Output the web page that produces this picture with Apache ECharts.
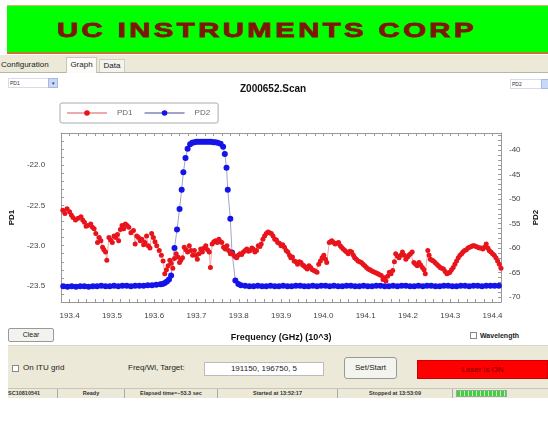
<!DOCTYPE html>
<html>
<head>
<meta charset="utf-8">
<script src="https://cdn.jsdelivr.net/npm/echarts@6/dist/echarts.min.js"></script>
<style>
html,body{margin:0;padding:0;background:#fff;}
body{width:548px;height:428px;position:relative;overflow:hidden;font-family:"Liberation Sans",Arial,sans-serif;}
.abs{position:absolute;box-sizing:border-box;}
#chart{position:absolute;left:0;top:0;width:548px;height:428px;z-index:5;}
</style>
</head>
<body>
<!-- banner -->
<div class="abs" style="left:7px;top:5px;width:541px;height:49px;background:#00ff00;border-top:1px solid #e0b070;border-bottom:2px solid #c8762a;"></div>
<div class="abs" style="left:0;top:6px;width:534px;height:47px;display:flex;align-items:center;justify-content:center;transform:scaleX(1.4);font-size:21px;font-weight:bold;color:#7e1606;letter-spacing:2.4px;white-space:nowrap;-webkit-text-stroke:0.8px #7e1606;">UC INSTRUMENTS CORP</div>
<!-- tab bar -->
<div class="abs" style="left:0;top:55px;width:548px;height:18px;background:#ece9d8;border-bottom:1px solid #b8b6a8;"></div>
<div class="abs" style="left:0;top:58px;width:64px;height:14px;font-size:8px;color:#222;line-height:14px;padding-left:1px;">Configuration</div>
<div class="abs" style="left:66px;top:57px;width:31px;height:16px;background:#fbfbf8;border:1px solid #c8c6b8;border-bottom:none;font-size:8px;color:#222;line-height:14px;text-align:center;">Graph</div>
<div class="abs" style="left:99px;top:59px;width:26px;height:13px;background:#f4f3ec;border:1px solid #d0cec0;border-bottom:none;font-size:8px;color:#222;line-height:12px;text-align:center;">Data</div>
<!-- dropdowns -->
<div class="abs" style="left:8px;top:78px;width:50px;height:10px;background:#fff;border:1px solid #d8dce8;font-size:5px;line-height:8px;padding-left:1px;color:#333;">PD1</div>
<div class="abs" style="left:48px;top:78px;width:10px;height:10px;background:#c8d8f8;border:1px solid #a8b8e0;font-size:5px;line-height:8px;text-align:center;color:#335;">&#9662;</div>
<div class="abs" style="left:510px;top:79px;width:40px;height:10px;background:#fff;border:1px solid #d8dce8;font-size:5px;line-height:8px;padding-left:1px;color:#333;">PD2</div>
<div class="abs" style="left:541px;top:79px;width:10px;height:10px;background:#c8d8f8;border:1px solid #a8b8e0;"></div>
<!-- under chart -->
<div class="abs" style="left:8px;top:328px;width:46px;height:14px;background:#f2f2ee;border:1px solid #999;border-radius:2px;font-size:7px;line-height:12px;text-align:center;color:#222;">Clear</div>
<div class="abs" style="left:470px;top:332px;width:7px;height:7px;background:#fff;border:1px solid #888;"></div>
<div class="abs" style="left:480px;top:331px;width:80px;height:9px;font-size:7px;font-weight:bold;line-height:9px;color:#222;white-space:nowrap;">Wavelength</div>
<!-- bottom panel -->
<div class="abs" style="left:8px;top:345px;width:540px;height:44px;background:#ece9d8;border-top:1px solid #d8d6c8;"></div>
<div class="abs" style="left:12px;top:365px;width:7px;height:7px;background:#fff;border:1px solid #888;"></div>
<div class="abs" style="left:23px;top:363px;width:60px;height:10px;font-size:8px;line-height:10px;color:#222;white-space:nowrap;">On ITU grid</div>
<div class="abs" style="left:128px;top:363px;width:75px;height:10px;font-size:8px;line-height:10px;color:#222;white-space:nowrap;">Freq/Wl, Target:</div>
<div class="abs" style="left:204px;top:362px;width:120px;height:14px;background:#fff;border:1px solid #bbb;font-size:8px;line-height:12px;text-align:center;color:#222;">191150, 196750, 5</div>
<div class="abs" style="left:344px;top:357px;width:53px;height:22px;background:#f4f4ee;border:1px solid #999;border-radius:3px;font-size:8px;line-height:20px;text-align:center;color:#222;">Set/Start</div>
<div class="abs" style="left:417px;top:360px;width:131px;height:19px;background:#ff0000;border:1px solid #c00;font-size:8px;line-height:17px;text-align:center;color:#7a0000;">Laser is ON</div>
<!-- status bar -->
<div class="abs" style="left:8px;top:388px;width:540px;height:10px;background:#ece9d8;border-top:1px solid #c8c6b8;"></div>
<div class="abs" style="left:8px;top:389px;width:50px;height:9px;font-size:5.5px;font-weight:bold;line-height:9px;color:#333;border-right:1px solid #aaa;">SC10810541</div>
<div class="abs" style="left:58px;top:389px;width:67px;height:9px;font-size:5.5px;font-weight:bold;line-height:9px;color:#333;text-align:center;border-right:1px solid #aaa;">Ready</div>
<div class="abs" style="left:125px;top:389px;width:93px;height:9px;font-size:5.5px;font-weight:bold;line-height:9px;color:#333;text-align:center;border-right:1px solid #aaa;">Elapsed time=~53.3 sec</div>
<div class="abs" style="left:218px;top:389px;width:120px;height:9px;font-size:5.5px;font-weight:bold;line-height:9px;color:#333;text-align:center;border-right:1px solid #aaa;">Started at 13:52:17</div>
<div class="abs" style="left:338px;top:389px;width:115px;height:9px;font-size:5.5px;font-weight:bold;line-height:9px;color:#333;text-align:center;border-right:1px solid #aaa;">Stopped at 13:53:09</div>
<div class="abs" style="left:456px;top:390px;width:51px;height:7px;border:1px solid #9a9;background:repeating-linear-gradient(90deg,#40d040 0 3px,#c8f0c8 3px 4px);"></div>

<div id="chart"></div>
<script>
// ---- data ----
const freqPD1 = [
193.384,193.389,193.394,193.400,193.404,193.408,193.414,193.420,193.427,193.431,
193.435,193.439,193.443,193.450,193.454,193.458,193.462,193.466,193.470,193.474,
193.478,193.481,193.485,193.488,193.493,193.497,193.501,193.505,193.509,193.513,
193.516,193.520,193.524,193.528,193.532,193.536,193.540,193.545,193.551,193.555,
193.559,193.563,193.567,193.571,193.575,193.578,193.582,193.586,193.590,193.594,
193.598,193.602,193.606,193.612,193.617,193.621,193.625,193.629,193.633,193.637,
193.640,193.644,193.648,193.652,193.656,193.660,193.663,193.667,193.671,193.675,
193.679,193.683,193.687,193.691,193.695,193.699,193.702,193.706,193.710,193.714,
193.718,193.722,193.726,193.730,193.733,193.737,193.741,193.745,193.749,193.753,
193.757,193.760,193.764,193.768,193.772,193.776,193.780,193.784,193.788,193.792,
193.795,193.799,193.803,193.807,193.811,193.815,193.819,193.823,193.827,193.831,
193.834,193.838,193.842,193.846,193.850,193.853,193.857,193.861,193.865,193.869,
193.873,193.877,193.881,193.885,193.889,193.892,193.896,193.900,193.904,193.908,
193.912,193.916,193.920,193.923,193.927,193.931,193.935,193.939,193.943,193.947,
193.951,193.954,193.958,193.962,193.966,193.970,193.974,193.978,193.982,193.985,
193.989,193.993,193.997,194.001,194.005,194.008,194.014,194.017,194.020,194.024,
194.028,194.032,194.036,194.040,194.043,194.047,194.051,194.055,194.059,194.063,
194.067,194.071,194.074,194.078,194.082,194.086,194.090,194.094,194.098,194.102,
194.106,194.110,194.113,194.117,194.121,194.125,194.129,194.133,194.137,194.141,
194.145,194.148,194.152,194.156,194.160,194.164,194.168,194.171,194.175,194.179,
194.183,194.187,194.191,194.195,194.199,194.202,194.206,194.210,194.214,194.218,
194.222,194.226,194.230,194.234,194.238,194.241,194.247,194.250,194.253,194.257,
194.260,194.264,194.268,194.272,194.276,194.280,194.284,194.288,194.292,194.296,
194.299,194.303,194.307,194.311,194.315,194.319,194.323,194.327,194.330,194.334,
194.338,194.342,194.346,194.350,194.353,194.357,194.361,194.365,194.369,194.373,
194.377,194.381,194.385,194.389,194.392,194.396,194.400,194.404,194.408,194.412,
194.416,194.420
];
const pd1 = [
-22.56,-22.60,-22.54,-22.58,-22.62,-22.65,-22.68,-22.66,-22.64,-22.68,
-22.71,-22.76,-22.75,-22.73,-22.77,-22.79,-22.85,-22.96,-22.90,-22.94,
-23.02,-23.05,-23.08,-23.18,-22.90,-22.93,-22.96,-22.88,-22.90,-22.86,
-22.94,-22.80,-22.75,-22.79,-22.73,-22.75,-22.77,-22.84,-22.81,-22.98,
-22.88,-22.90,-22.94,-22.92,-22.99,-22.96,-22.88,-23.00,-23.03,-22.85,
-22.90,-22.95,-23.00,-23.06,-23.12,-23.19,-23.35,-23.30,-23.25,-23.18,
-23.22,-23.28,-23.16,-23.10,-23.14,-23.21,-23.18,-23.15,-23.02,-23.05,
-23.08,-23.00,-23.06,-23.12,-23.06,-23.12,-23.17,-23.10,-23.04,-23.08,
-23.03,-23.00,-23.05,-23.08,-23.27,-22.98,-22.95,-22.94,-22.96,-22.92,
-22.95,-22.96,-23.02,-23.04,-23.00,-23.06,-23.10,-23.09,-23.12,-23.14,
-23.15,-23.12,-23.10,-23.11,-23.08,-23.06,-23.04,-23.07,-23.06,-23.03,
-23.04,-23.08,-23.06,-23.00,-23.01,-22.98,-22.92,-22.88,-22.85,-22.83,
-22.84,-22.85,-22.88,-22.92,-22.93,-22.96,-22.97,-23.00,-22.99,-23.02,
-23.06,-23.08,-23.12,-23.15,-23.14,-23.19,-23.20,-23.23,-23.20,-23.21,
-23.24,-23.25,-23.27,-23.29,-23.25,-23.27,-23.30,-23.31,-23.32,-23.33,
-23.23,-23.19,-23.15,-23.12,-23.17,-23.21,-22.96,-22.95,-22.94,-22.96,
-22.98,-22.97,-22.96,-23.00,-23.02,-23.04,-23.06,-23.08,-23.10,-23.07,
-23.08,-23.12,-23.15,-23.17,-23.19,-23.20,-23.21,-23.23,-23.25,-23.27,
-23.29,-23.30,-23.31,-23.32,-23.33,-23.34,-23.35,-23.36,-23.37,-23.42,
-23.40,-23.44,-23.38,-23.33,-23.35,-23.31,-23.20,-23.10,-23.13,-23.15,
-23.12,-23.08,-23.12,-23.17,-23.14,-23.12,-23.10,-23.08,-23.21,-23.23,
-23.25,-23.21,-23.24,-23.27,-23.30,-23.35,-23.06,-23.12,-23.17,-23.18,
-23.19,-23.21,-23.23,-23.25,-23.27,-23.28,-23.29,-23.32,-23.35,-23.34,
-23.33,-23.30,-23.27,-23.23,-23.19,-23.15,-23.12,-23.10,-23.08,-23.06,
-23.05,-23.03,-23.02,-23.01,-23.00,-23.00,-23.01,-23.02,-23.03,-23.03,
-23.04,-23.02,-22.98,-23.03,-23.06,-23.08,-23.10,-23.12,-23.15,-23.19,
-23.23,-23.28
];
const freqPD2 = [
193.385,193.395,193.405,193.415,193.425,193.435,193.445,193.455,193.465,193.475,
193.485,193.495,193.505,193.515,193.525,193.535,193.545,193.555,193.565,193.575,
193.585,193.595,193.605,193.615,
193.620,193.625,193.630,193.635,193.640,193.648,193.654,193.660,193.665,193.669,
193.674,193.679,193.685,193.690,193.695,193.700,193.705,193.710,193.715,193.720,
193.725,193.730,193.735,193.740,193.745,193.750,193.757,193.763,193.767,193.771,
193.774,193.780,193.784,193.792,193.799,193.805,
193.815,193.825,193.835,193.845,193.855,193.865,193.875,193.885,193.895,193.905,
193.915,193.925,193.935,193.945,193.955,193.965,193.975,193.985,193.995,194.005,
194.015,194.025,194.035,194.045,194.055,194.065,194.075,194.085,194.095,194.105,
194.115,194.125,194.135,194.145,194.155,194.165,194.175,194.185,194.195,194.205,
194.215,194.225,194.235,194.245,194.255,194.265,194.275,194.285,194.295,194.305,
194.315,194.325,194.335,194.345,194.355,194.365,194.375,194.385,194.395,194.405,
194.415
];
const pd2 = [
-67.8,-67.9,-67.8,-67.9,-67.8,-67.8,-67.9,-67.8,-67.8,-67.7,
-67.8,-67.8,-67.7,-67.8,-67.7,-67.7,-67.8,-67.7,-67.7,-67.7,
-67.6,-67.6,-67.5,-67.4,
-67.3,-67.1,-66.8,-66.4,-65.6,-60.0,-56.2,-52.0,-48.1,-44.5,
-41.6,-39.7,-38.8,-38.5,-38.4,-38.3,-38.3,-38.3,-38.3,-38.3,
-38.3,-38.3,-38.3,-38.4,-38.4,-38.5,-38.7,-39.3,-40.8,-43.6,
-48.1,-54.0,-60.9,-66.6,-67.3,-67.6,
-67.7,-67.8,-67.8,-67.7,-67.8,-67.8,-67.7,-67.8,-67.8,-67.7,
-67.8,-67.8,-67.7,-67.7,-67.8,-67.8,-67.7,-67.8,-67.7,-67.7,
-67.8,-67.7,-67.8,-67.8,-67.7,-67.7,-67.8,-67.8,-67.7,-67.8,
-67.8,-67.7,-67.7,-67.8,-67.8,-67.7,-67.8,-67.7,-67.7,-67.8,
-67.8,-67.7,-67.8,-67.7,-67.7,-67.8,-67.8,-67.7,-67.7,-67.8,
-67.8,-67.7,-67.7,-67.8,-67.7,-67.7,-67.8,-67.7,-67.7,-67.7,
-67.7
];
const seriesNames = ['PD1', 'PD2'];
const chartTitle = 'Z000652.Scan';
const xName = 'Frequency (GHz) (10^3)';

function isMult(v, step) { const r = v / step; return Math.abs(r - Math.round(r)) < 1e-6; }

const chart = echarts.init(document.getElementById('chart'), null, {renderer: 'canvas'});
const tickLbl = {fontSize: 8, color: '#444', fontFamily: 'Liberation Sans'};
const axLine = {show: true, lineStyle: {color: '#999', width: 1}};
const axTick = {show: true, inside: true, length: 3, lineStyle: {color: '#999'}};
chart.setOption({
  animation: false,
  backgroundColor: 'transparent',
  title: {text: chartTitle, left: 240, top: 84, padding: 0,
    textStyle: {fontSize: 10, fontWeight: 'bold', color: '#111', fontFamily: 'Liberation Sans'}},
  legend: {data: seriesNames, left: 60, top: 103, orient: 'horizontal',
    itemWidth: 40, itemHeight: 7, itemGap: 11, padding: [6, 8, 6, 6],
    borderColor: '#aaa', borderWidth: 1, borderRadius: 2,
    textStyle: {fontSize: 8, color: '#666', padding: [0, 0, 0, 5], fontFamily: 'Liberation Sans'}},
  grid: {left: 60, right: 41, top: 133, bottom: 126, show: false},
  xAxis: [
    {type: 'value', position: 'bottom', min: 193.38, max: 194.42, interval: 0.02,
      name: xName, nameLocation: 'middle', nameGap: 31,
      nameTextStyle: {fontSize: 9, fontWeight: 'bold', color: '#111', fontFamily: 'Liberation Sans'},
      axisLine: axLine, axisTick: axTick, splitLine: {show: false},
      axisLabel: Object.assign({margin: 10, formatter: v => isMult(v, 0.1) ? v.toFixed(1) : ''}, tickLbl)},
    {type: 'value', position: 'top', min: 193.38, max: 194.42, interval: 0.02,
      axisLine: axLine, axisTick: axTick, splitLine: {show: false}, axisLabel: {show: false}}
  ],
  yAxis: [
    {type: 'value', position: 'left', min: -23.7, max: -21.6, interval: 0.1,
      name: 'PD1', nameLocation: 'middle', nameGap: 40, nameRotate: 90,
      nameTextStyle: {fontSize: 8, fontWeight: 'bold', color: '#111', fontFamily: 'Liberation Sans'},
      axisLine: axLine, axisTick: axTick, splitLine: {show: false},
      axisLabel: Object.assign({margin: 16, formatter: v => isMult(v, 0.5) ? v.toFixed(1) : ''}, tickLbl)},
    {type: 'value', position: 'right', min: -71, max: -36.5, interval: 1,
      name: 'PD2', nameLocation: 'middle', nameGap: 31, nameRotate: 90,
      nameTextStyle: {fontSize: 8, fontWeight: 'bold', color: '#111', fontFamily: 'Liberation Sans'},
      axisLine: axLine, axisTick: axTick, splitLine: {show: false},
      axisLabel: Object.assign({margin: 8, formatter: v => isMult(v, 5) ? String(Math.round(v)) : ''}, tickLbl)}
  ],
  series: [
    {name: 'PD2', type: 'line', xAxisIndex: 0, yAxisIndex: 1,
      data: freqPD2.map((f, i) => [f, pd2[i]]),
      symbol: 'circle', symbolSize: 6, showSymbol: true, showAllSymbol: true,
      itemStyle: {color: '#1414e8'}, lineStyle: {color: '#a0a4cc', width: 1}},
    {name: 'PD1', type: 'line', xAxisIndex: 0, yAxisIndex: 0,
      data: freqPD1.map((f, i) => [f, pd1[i]]),
      symbol: 'circle', symbolSize: 5, showSymbol: true, showAllSymbol: true,
      itemStyle: {color: '#e8141c'}, lineStyle: {color: '#eeaaaa', width: 1}}
  ]
});
</script>
</body>
</html>
